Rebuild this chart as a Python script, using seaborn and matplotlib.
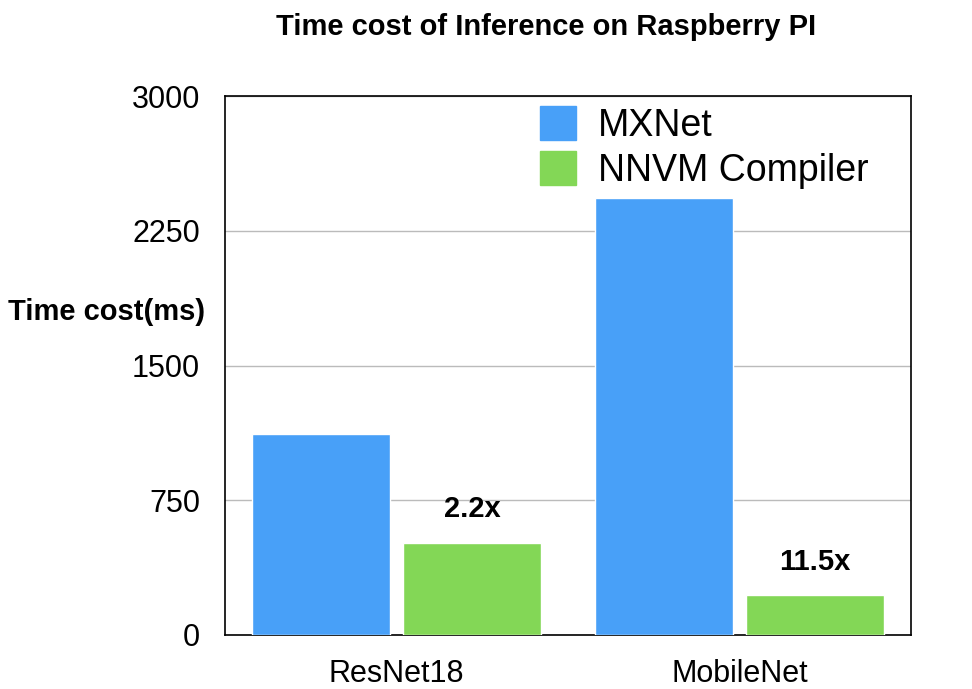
import matplotlib as mpl
mpl.use("Agg")
import matplotlib.pyplot as plt
import pandas as pd
import seaborn as sns

MODELS = ["ResNet18", "MobileNet"]
FRAMEWORKS = ["MXNet", "NNVM Compiler"]
MXNET_MS = [1121, 2431]
NNVM_MS = [513, 223]
SPEEDUP_LABELS = ["2.2x", "11.5x"]
Y_TICKS = [0, 750, 1500, 2250, 3000]

COLORS = {"MXNet": "#48A0F8", "NNVM Compiler": "#83D756"}

sns.set_theme(style="white")
plt.rcParams["font.family"] = ["Liberation Sans", "DejaVu Sans"]
plt.rcParams["text.color"] = "black"
plt.rcParams["xtick.color"] = "black"
plt.rcParams["ytick.color"] = "black"

df = pd.DataFrame({
    "model": MODELS * 2,
    "framework": [FRAMEWORKS[0]] * 2 + [FRAMEWORKS[1]] * 2,
    "ms": MXNET_MS + NNVM_MS,
})

fig = plt.figure(figsize=(9.72, 6.89), dpi=100)
ax = fig.add_axes([225 / 972, 1 - 635 / 689, 686 / 972, 539 / 689])

sns.barplot(
    data=df, x="model", y="ms", hue="framework",
    order=MODELS, hue_order=FRAMEWORKS, palette=COLORS,
    width=0.88, gap=0.09, saturation=1, errorbar=None, ax=ax, zorder=3,
)

ax.set_xlim(-0.5, 1.5)
ax.set_ylim(0, 3000)
ax.set_yticks(Y_TICKS)
ax.set_yticklabels([str(t) for t in Y_TICKS])
ax.yaxis.grid(True, color="#bbbbbb", linewidth=1, zorder=0)
ax.set_axisbelow(True)
ax.tick_params(axis="y", labelsize=22, length=0, pad=18)
ax.tick_params(axis="x", labelsize=22, length=0, pad=17)
ax.set_xlabel("")
ax.set_ylabel("")
for s in ax.spines.values():
    s.set_visible(True)
    s.set_color("black")
    s.set_linewidth(1.2)

# speedup labels above the NNVM bars
for i, (val, lab) in enumerate(zip(NNVM_MS, SPEEDUP_LABELS)):
    ax.annotate(lab, xy=(i + 0.22, val), xytext=(0, 24), textcoords="offset points",
                ha="center", va="center", fontsize=21, fontweight="bold")

fig.text(8 / 972, 1 - 312 / 689, "Time cost(ms)", fontsize=21, fontweight="bold",
         ha="left", va="center")
fig.text(546 / 972, 1 - 27 / 689, "Time cost of Inference on Raspberry PI",
         fontsize=21, fontweight="bold", ha="center", va="center")

handles = [mpl.patches.Patch(color=COLORS[f], label=f) for f in FRAMEWORKS]
ax.get_legend().remove()
fig.legend(handles=handles, loc="upper left", bbox_to_anchor=(540 / 972, 1 - 106 / 689),
           frameon=False, fontsize=27, handlelength=0.95, handleheight=1.0,
           handletextpad=0.6, labelspacing=0.2, borderpad=0, borderaxespad=0)

fig.savefig("out.png", dpi=100, facecolor="white")
